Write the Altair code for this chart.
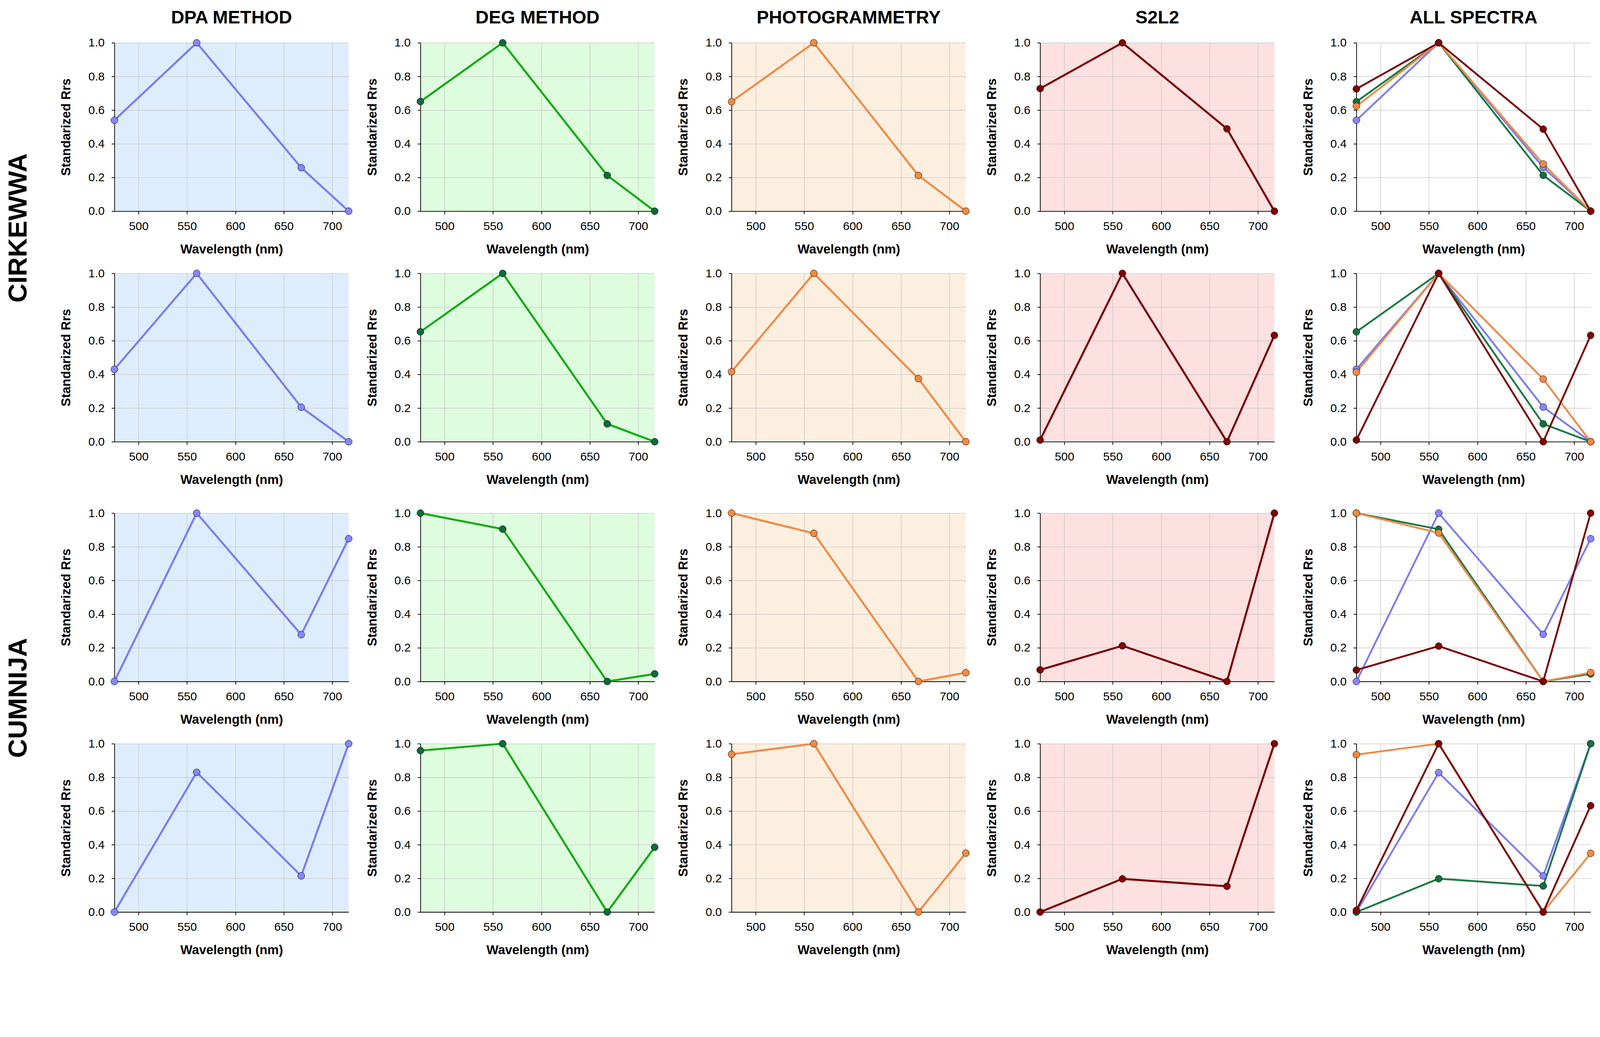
import altair as alt
import pandas as pd

# ---------------- data ----------------
WL = [475, 560, 668, 717]                      # band centres (nm)
X_TICKS = [500, 550, 600, 650, 700]
Y_TICKS = [0.0, 0.2, 0.4, 0.6, 0.8, 1.0]

COLUMNS = ["DPA METHOD", "DEG METHOD", "PHOTOGRAMMETRY", "S2L2", "ALL SPECTRA"]
SITES = ["CIRKEWWA", "CUMNIJA"]

# rows 1-2 = CIRKEWWA, rows 3-4 = CUMNIJA
DPA = [
    [0.54, 1.00, 0.258, 0.00],
    [0.43, 1.00, 0.205, 0.00],
    [0.00, 1.00, 0.278, 0.848],
    [0.00, 0.83, 0.215, 1.00],
]
DEG = [
    [0.651, 1.00, 0.212, 0.00],
    [0.653, 1.00, 0.106, 0.00],
    [1.00, 0.905, 0.00, 0.045],
    [0.959, 1.00, 0.00, 0.385],
]
PHOTO = [
    [0.65, 1.00, 0.212, 0.00],
    [0.416, 1.00, 0.375, 0.00],
    [1.00, 0.88, 0.00, 0.052],
    [0.937, 1.00, 0.00, 0.35],
]
S2L2 = [
    [0.728, 1.00, 0.489, 0.00],
    [0.01, 1.00, 0.00, 0.632],
    [0.069, 0.212, 0.00, 1.00],
    [0.00, 0.197, 0.153, 1.00],
]
# ALL SPECTRA panels, as drawn
ALL_DPA = [
    [0.54, 1.00, 0.26, 0.00],
    [0.43, 1.00, 0.206, 0.00],
    [0.00, 1.00, 0.28, 0.848],
    [0.00, 0.828, 0.215, 1.00],
]
ALL_DEG = [
    [0.65, 1.00, 0.213, 0.00],
    [0.653, 1.00, 0.106, 0.00],
    [1.00, 0.904, 0.00, 0.045],
    [0.00, 0.198, 0.155, 1.00],
]
ALL_PHOTO = [
    [0.623, 1.00, 0.28, 0.00],
    [0.413, 1.00, 0.372, 0.00],
    [1.00, 0.882, 0.00, 0.053],
    [0.935, 1.00, 0.00, 0.349],
]
ALL_S2L2 = [
    [0.726, 1.00, 0.487, 0.00],
    [0.01, 1.00, 0.00, 0.632],
    [0.068, 0.21, 0.00, 1.00],
    [0.01, 1.00, 0.00, 0.632],
]

# ---------------- styles ----------------
FONT = "Liberation Sans"
KEYS = ["DPA", "DEG", "PHOTO", "S2L2"]
BG = {"DPA": "#deedfd", "DEG": "#defcde", "PHOTO": "#fdefdf", "S2L2": "#fde0e0", "ALL": "#ffffff"}
LINE = {"DPA": "#7c7cf0", "DEG": "#12aa12", "PHOTO": "#f08a48", "S2L2": "#7a0000"}
FILL = {"DPA": "#8686ff", "DEG": "#0b6b3b", "PHOTO": "#f5893f", "S2L2": "#800000"}
ALL_LINE = ["#7c7cf0", "#1b7a44", "#f08a48", "#7a0000"]
ALL_FILL = ["#8686ff", "#137040", "#f5893f", "#800000"]
ALL_NAMES = ["all_dpa", "all_deg", "all_photo", "all_s2l2"]

PW, PH = 640, 460
LW = 5.5
PS = 360


def axes():
    x = alt.X("wl:Q", scale=alt.Scale(domain=[475, 717], nice=False, zero=False),
              axis=alt.Axis(values=X_TICKS, title="Wavelength (nm)"))
    y = alt.Y("v:Q", scale=alt.Scale(domain=[0, 1], nice=False, zero=False),
              axis=alt.Axis(values=Y_TICKS, format=".1f", title="Standarized Rrs"))
    return x, y


def frame(series):
    rows = []
    for name, vals in series:
        for w, v in zip(WL, vals):
            rows.append({"wl": w, "v": v, "s": name})
    return pd.DataFrame(rows)


def single_panel(key, vals):
    df = frame([(key, vals)])
    x, y = axes()
    base = alt.Chart(df)
    lines = base.mark_line(strokeWidth=LW, color=LINE[key]).encode(x=x, y=y)
    pts = base.mark_circle(size=PS, opacity=1, fill=FILL[key], stroke="black", strokeWidth=1).encode(x=x, y=y)
    return alt.layer(lines, pts).properties(width=PW, height=PH,
                                           view=alt.ViewBackground(fill=BG[key], strokeWidth=0))


def all_panel(r):
    df = frame(list(zip(ALL_NAMES, [ALL_DPA[r], ALL_DEG[r], ALL_PHOTO[r], ALL_S2L2[r]])))
    x, y = axes()
    base = alt.Chart(df)
    lines = base.mark_line(strokeWidth=LW - 0.5).encode(
        x=x, y=y,
        stroke=alt.Stroke("s:N", scale=alt.Scale(domain=ALL_NAMES, range=ALL_LINE), legend=None),
        order=alt.Order("wl:Q"),
    )
    pts = base.mark_circle(size=PS, opacity=1, stroke="black", strokeWidth=1).encode(
        x=x, y=y,
        fill=alt.Fill("s:N", scale=alt.Scale(domain=ALL_NAMES, range=ALL_FILL), legend=None),
    )
    return alt.layer(lines, pts).properties(width=PW, height=PH,
                                           view=alt.ViewBackground(fill=BG["ALL"], strokeWidth=0))


def column(ci):
    panels = []
    for r in range(4):
        if ci == 4:
            p = all_panel(r)
        else:
            key = KEYS[ci]
            p = single_panel(key, {"DPA": DPA, "DEG": DEG, "PHOTO": PHOTO, "S2L2": S2L2}[key][r])
        if r == 0:
            p = p.properties(title=alt.TitleParams(text=COLUMNS[ci], fontSize=50, font=FONT, fontWeight="bold",
                                                   color="black", anchor="middle", offset=27))
        panels.append(p)
    g1 = alt.vconcat(panels[0], panels[1], spacing=32)
    g2 = alt.vconcat(panels[2], panels[3], spacing=32)
    return alt.vconcat(g1, g2, spacing=57)


# row labels drawn through a point scale
labels = alt.Chart(pd.DataFrame({"site": SITES})).mark_text(
    angle=270, font=FONT, fontSize=72, fontWeight="bold", color="black"
).encode(
    y=alt.Y("site:N", sort=SITES, axis=None,
            scale=alt.Scale(type="point", domain=SITES, padding=0.4174, align=0.472)),
    text="site:N",
).properties(width=72, height=2356, view=alt.ViewBackground(strokeWidth=0))

cols = [column(i) for i in range(5)]
chart = alt.hconcat(labels, cols[0], spacing=77)
chart = alt.hconcat(chart, cols[1], spacing=35)
chart = alt.hconcat(chart, cols[2], spacing=49)
chart = alt.hconcat(chart, cols[3], spacing=42)
chart = alt.hconcat(chart, cols[4], spacing=63)

chart = chart.properties(padding={"left": 5, "top": -67, "right": 5, "bottom": -70}, background="white").configure_axis(
    labelFont=FONT, labelFontSize=32, labelColor="black",
    titleFont=FONT, titleFontSize=35, titleFontWeight="bold", titleColor="black",
    gridColor="#c8c8c8", gridWidth=1.5, gridOpacity=1,
    tickColor="black", tickSize=8, tickWidth=2,
    domainColor="black", domainWidth=2,
).configure_axisX(labelPadding=18, titlePadding=30).configure_axisY(labelPadding=19, titlePadding=42).configure_view(
    strokeWidth=0
)

chart.save("out.html", embed_options={"renderer": "svg", "actions": False})
